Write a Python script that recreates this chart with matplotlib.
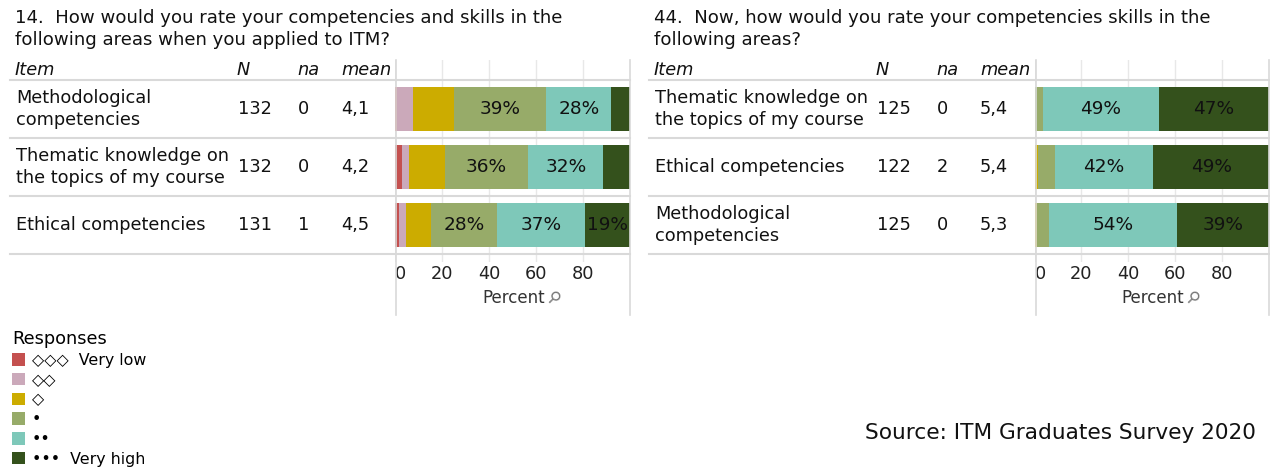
import numpy as np
import matplotlib.pyplot as plt
from matplotlib.patches import Patch
from matplotlib.lines import Line2D

W, H = 1270, 470
plt.rcParams['font.family'] = ['DejaVu Sans']

# response categories (low -> high)
colors = ['#C4504F', '#CBA9BA', '#CCAC00', '#97AB69', '#7EC8B9', '#34511C']
legend_labels = ['◇◇◇  Very low', '◇◇', '◇', '•', '••', '•••  Very high']

# question 14 (at application)
items_14 = ['Methodological\ncompetencies', 'Thematic knowledge on\nthe topics of my course', 'Ethical competencies']
n_14 = [132, 132, 131]
na_14 = [0, 0, 1]
mean_14 = ['4,1', '4,2', '4,5']
pct_14 = np.array([
    [0.8, 6.8, 17.4, 39.4, 27.7, 7.9],
    [3.0, 3.0, 15.2, 35.6, 31.8, 11.4],
    [1.5, 3.1, 10.7, 28.2, 37.4, 19.1],
])

# question 44 (now)
items_44 = ['Thematic knowledge on\nthe topics of my course', 'Ethical competencies', 'Methodological\ncompetencies']
n_44 = [125, 122, 125]
na_44 = [0, 2, 0]
mean_44 = ['5,4', '5,4', '5,3']
pct_44 = np.array([
    [0.0, 0.0, 0.4, 3.2, 49.3, 47.1],
    [0.0, 0.0, 1.4, 7.2, 42.0, 49.4],
    [0.0, 0.0, 1.1, 5.1, 54.4, 39.4],
])

fs = 12.8
grey_line = '#d9d9d9'


def fx(x):
    return x / W


def fy(y):
    return 1 - y / H


fig = plt.figure(figsize=(W / 100, H / 100), dpi=100)


def hline(y, x0, x1):
    fig.add_artist(Line2D([fx(x0), fx(x1)], [fy(y), fy(y)], color=grey_line, lw=1.5))


def vline(x, y0, y1):
    fig.add_artist(Line2D([fx(x), fx(x)], [fy(y0), fy(y1)], color=grey_line, lw=1.2))


def panel(x0, title, items, n, na, mean, pct, bar_left, bar_right):
    # title and header
    fig.text(fx(x0 + 5), fy(29), title, fontsize=13.1, va='center', ha='left',
             color='#111111', linespacing=1.24)
    cols = [x0 + 5, x0 + 227, x0 + 287, x0 + 331]
    for c, h in zip(cols, ['Item', 'N', 'na', 'mean']):
        fig.text(fx(c), fy(70), h, fontsize=fs, style='italic', va='center', color='#111111')
    for y in [80, 138, 196, 254]:
        hline(y, x0, bar_right)
    vline(bar_left + 1, 60, 315)
    vline(bar_right, 60, 315)

    rows_y = [109, 167, 225]
    for i, y in enumerate(rows_y):
        fig.text(fx(cols[0] + 1), fy(y), items[i], fontsize=fs, va='center', color='#111111',
                 linespacing=1.24)
        fig.text(fx(cols[1] + 1), fy(y), str(n[i]), fontsize=fs, va='center', color='#111111')
        fig.text(fx(cols[2] + 1), fy(y), str(na[i]), fontsize=fs, va='center', color='#111111')
        fig.text(fx(cols[3]), fy(y), mean[i], fontsize=fs, va='center', color='#111111')

    ax = fig.add_axes([fx(bar_left), fy(262), fx(bar_right) - fx(bar_left), fy(60) - fy(262)])
    ypos = np.arange(len(items))
    left = np.zeros(len(items))
    for k in range(pct.shape[1]):
        vals = pct[:, k]
        ax.barh(ypos, vals, left=left, height=0.76, color=colors[k], zorder=2)
        for j, v in enumerate(vals):
            if v >= 18:
                ax.text(left[j] + v / 2, ypos[j], f'{v:.0f}%', ha='center', va='center',
                        fontsize=fs + 0.5, color='#111111', zorder=3)
        left += vals
    ax.set_xlim(0, 100)
    ax.set_ylim(2.638, -0.845)
    ax.set_yticks([])
    ax.set_xticks([0, 20, 40, 60, 80])
    ax.set_xticklabels(['0', '20', '40', '60', '80'], fontsize=fs, color='#222222')
    ax.get_xticklabels()[0].set_horizontalalignment('left')
    ax.tick_params(axis='x', length=0, pad=2)
    ax.grid(axis='x', color='#e8e8e8', lw=1, zorder=0)
    for s in ax.spines.values():
        s.set_visible(False)
    ax.patch.set_alpha(0)
    mid = (bar_left + bar_right) / 2
    fig.text(fx(mid - 30), fy(298), 'Percent', fontsize=fs - 0.8, va='center', ha='left',
             color='#333333')
    fig.text(fx(mid + 40), fy(299), '⚲', fontsize=fs - 1, va='center', ha='center',
             color='#777777', rotation=-45, fontweight='bold')
    return ax


panel(10, '14.  How would you rate your competencies and skills in the\n'
          'following areas when you applied to ITM?',
      items_14, n_14, na_14, mean_14, pct_14, 395, 630)
panel(649, '44.  Now, how would you rate your competencies skills in the\n'
           'following areas?',
      items_44, n_44, na_44, mean_44, pct_44, 1034.5, 1269)

handles = [Patch(facecolor=c, edgecolor='none') for c in colors]
leg = fig.legend(handles, legend_labels, title='Responses', loc='upper left',
                 bbox_to_anchor=(fx(9), fy(327)), frameon=False, fontsize=fs - 1.4,
                 title_fontsize=fs, handlelength=0.83, handleheight=0.83,
                 handletextpad=0.4, labelspacing=0.3, borderaxespad=0, borderpad=0.2,
                 alignment='left')

fig.text(fx(1256), fy(433), 'Source: ITM Graduates Survey 2020', fontsize=15.6,
         ha='right', va='center', color='#111111')

fig.savefig('out.png', dpi=100)
